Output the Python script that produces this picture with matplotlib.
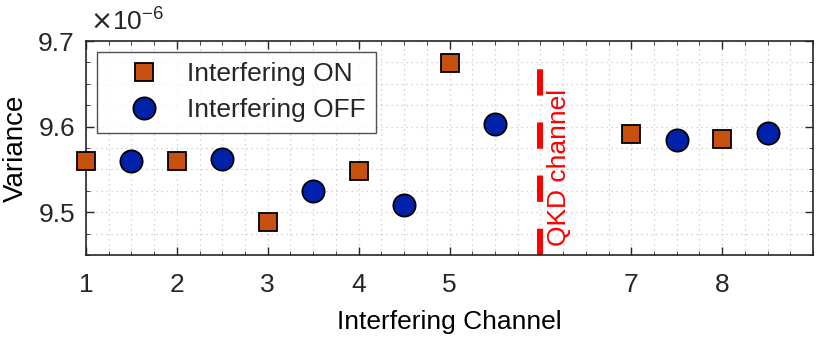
import matplotlib.pyplot as plt
import numpy as np
from matplotlib.ticker import MultipleLocator, FixedLocator

plt.rcParams.update({
    "font.family": ["Liberation Sans", "DejaVu Sans"],
    "font.size": 18,
    "axes.edgecolor": "#262626",
    "xtick.color": "#262626",
    "ytick.color": "#262626",
    "text.color": "#262626",
})

# data (variance in units of 1e-6)
ch_on = [1, 2, 3, 4, 5, 7, 8]
var_on = [9.560, 9.560, 9.488, 9.548, 9.674, 9.591, 9.586]
ch_off = [1.5, 2.5, 3.5, 4.5, 5.5, 7.5, 8.5]
var_off = [9.560, 9.562, 9.525, 9.508, 9.603, 9.584, 9.592]
qkd_channel = 6
xticks = [1, 2, 3, 4, 5, 7, 8]

fig = plt.figure(figsize=(8.22, 3.44), dpi=100)
ax = fig.add_axes([86 / 822, 1 - 255 / 344, (813 - 86) / 822, (255 - 41) / 344])

ax.plot(ch_on, var_on, 's', ms=13, mfc='#C8500E', mec='black', mew=1.3,
        label='Interfering ON', zorder=3, clip_on=False)
ax.plot(ch_off, var_off, 'o', ms=16, mfc='#0022AA', mec='black', mew=1.3,
        label='Interfering OFF', zorder=3, clip_on=False)

# QKD channel marker
ax.plot([qkd_channel, qkd_channel], [9.45, 9.668], color='red', lw=4.3,
        dashes=(4.4, 4.5), solid_capstyle='butt', dash_capstyle='butt', zorder=2)
ax.text(qkd_channel + 0.21, 9.4605, 'QKD channel', color='red', rotation=90,
        ha='center', va='bottom', fontsize=19)

ax.set_xlim(1, 9)
ax.set_ylim(9.45, 9.7)
ax.xaxis.set_major_locator(FixedLocator(xticks))
ax.xaxis.set_minor_locator(MultipleLocator(0.25))
ax.yaxis.set_major_locator(FixedLocator([9.5, 9.6, 9.7]))
ax.yaxis.set_minor_locator(MultipleLocator(0.025))
ax.set_yticklabels(['9.5', '9.6', '9.7'])

ax.tick_params(which='both', direction='in', top=True, right=True)
ax.tick_params(which='major', length=6, width=1, labelsize=19, pad=13)
ax.tick_params(which='minor', length=3, width=0.6)
ax.tick_params(axis='y', which='major', pad=8)

ax.grid(True, which='both', linestyle=(0, (1, 3)), color='#c8c8c8', linewidth=0.9)
ax.set_axisbelow(True)
for s in ax.spines.values():
    s.set_linewidth(1.2)

ax.set_xlabel('Interfering Channel', fontsize=19, labelpad=9)
ax.set_ylabel('Variance', fontsize=20, labelpad=7)

ax.text(0.005, 1.03, r'$\times$10$^{\mathregular{-6}}$', transform=ax.transAxes,
        fontsize=19, ha='left', va='bottom')

leg = ax.legend(loc='upper left', bbox_to_anchor=(0.015, 0.95), fontsize=19,
                frameon=True, fancybox=False, edgecolor='#262626',
                borderpad=0.4, handletextpad=0.2, labelspacing=0.45,
                borderaxespad=0, handlelength=2.8)
leg.get_frame().set_linewidth(1.0)

fig.savefig('out.png', dpi=100)
